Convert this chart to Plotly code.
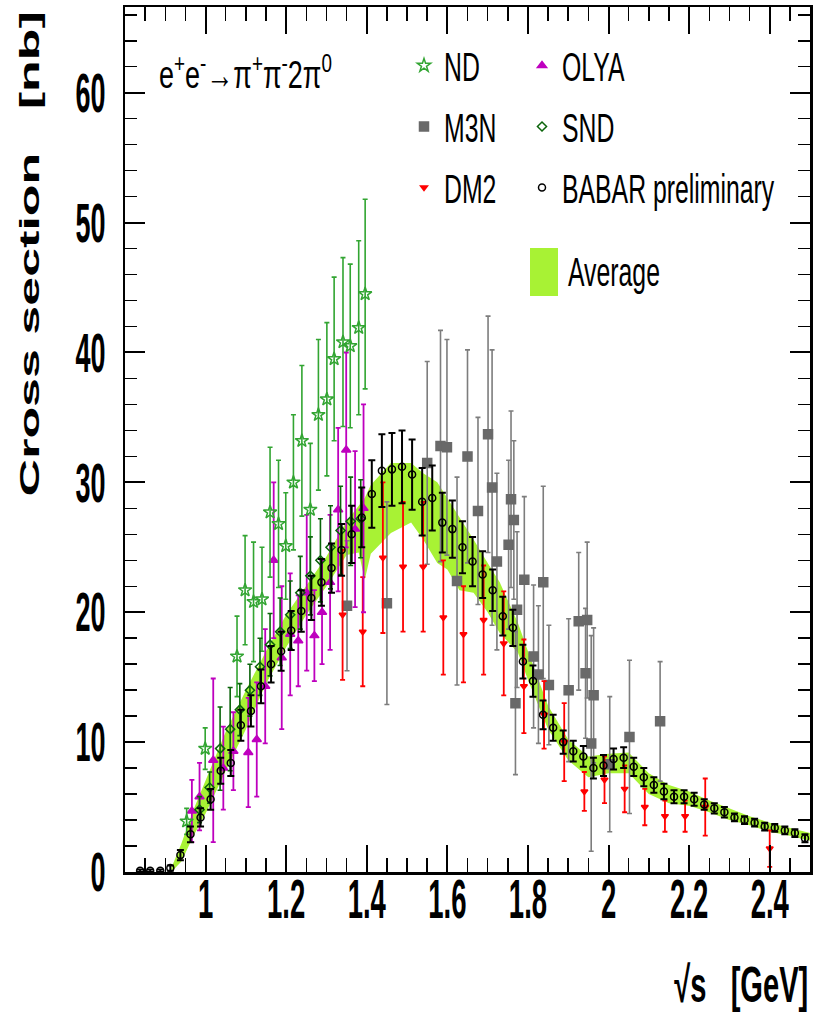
import plotly.graph_objects as go

# ---------------- data ----------------
babar_x = [0.8375, 0.8625, 0.8875, 0.9125, 0.9375, 0.9625, 0.9875, 1.0125, 1.0375, 1.0625,
           1.0875, 1.1125, 1.1375, 1.1625, 1.1875, 1.2125, 1.2375, 1.2625, 1.2875, 1.3125,
           1.3375, 1.3625, 1.3875, 1.4125, 1.4375, 1.4625, 1.4875, 1.5125, 1.5375, 1.5625,
           1.5875, 1.6125, 1.6375, 1.6625, 1.6875, 1.7125, 1.7375, 1.7625, 1.7875, 1.8125,
           1.8375, 1.8625, 1.8875, 1.9125, 1.9375, 1.9625, 1.9875, 2.0125, 2.0375, 2.0625,
           2.0875, 2.1125, 2.1375, 2.1625, 2.1875, 2.2125, 2.2375, 2.2625, 2.2875, 2.3125,
           2.3375, 2.3625, 2.3875, 2.4125, 2.4375, 2.4625, 2.4875]
babar_y = [0.1, 0.1, 0.1, 0.3, 1.3, 2.9, 4.2, 5.6, 7.8, 8.4,
           11.3, 12.4, 14.3, 16.0, 17.0, 18.6, 20.1, 21.1, 22.3, 23.4,
           24.8, 26.0, 27.3, 29.1, 30.9, 31.0, 31.2, 30.6, 28.5, 28.8,
           26.9, 26.4, 25.0, 23.9, 22.9, 21.7, 19.7, 18.8, 16.2, 14.7,
           12.1, 11.1, 10.0, 9.3, 8.9, 8.0, 8.2, 8.7, 8.8, 8.1,
           7.3, 6.7, 6.2, 5.8, 5.8, 5.6, 5.2, 4.9, 4.6, 4.2,
           4.0, 3.8, 3.5, 3.4, 3.2, 3.0, 2.6]
babar_err = [0.1, 0.1, 0.1, 0.2, 0.4, 0.6, 0.7, 0.8, 1.0, 1.0,
             1.2, 1.2, 1.3, 1.4, 1.5, 1.5, 1.6, 1.7, 1.8, 1.9,
             2.0, 2.2, 2.3, 2.6, 2.8, 2.8, 2.8, 2.7, 2.6, 2.5,
             2.3, 2.2, 2.0, 1.9, 1.8, 1.6, 1.5, 1.4, 1.3, 1.2,
             1.1, 1.0, 0.9, 0.8, 0.8, 0.8, 0.8, 0.8, 0.8, 0.7,
             0.7, 0.6, 0.6, 0.5, 0.5, 0.5, 0.4, 0.4, 0.4, 0.3,
             0.3, 0.3, 0.3, 0.3, 0.3, 0.3, 0.3]

nd_x = [0.953, 0.999, 1.078, 1.098, 1.119, 1.140, 1.160, 1.181, 1.199, 1.218,
        1.239, 1.260, 1.280, 1.301, 1.319, 1.341, 1.359, 1.380, 1.396]
nd_y = [3.9, 9.5, 16.6, 21.7, 20.8, 21.0, 27.7, 26.8, 25.1, 30.0,
        33.2, 27.9, 35.2, 36.4, 39.5, 40.8, 40.5, 41.9, 44.5]
nd_err = [1.0, 1.6, 3.1, 4.2, 4.6, 4.0, 5.0, 4.9, 4.1, 5.2,
          5.8, 5.1, 5.8, 5.9, 6.3, 6.5, 6.3, 6.7, 7.3]

m3n_x = [1.351, 1.450, 1.550, 1.583, 1.599, 1.624, 1.650, 1.676, 1.701, 1.711,
         1.723, 1.752, 1.758, 1.765, 1.769, 1.773, 1.791, 1.814, 1.826, 1.838,
         1.852, 1.901, 1.926, 1.943, 1.947, 1.957, 1.963, 2.003, 2.052, 2.128]
m3n_y = [20.5, 20.7, 31.5, 32.8, 32.7, 22.4, 32.0, 27.8, 33.7, 29.6,
         23.9, 25.2, 28.7, 27.1, 13.0, 20.2, 22.5, 16.6, 15.2, 22.3,
         14.4, 14.0, 19.3, 15.3, 19.4, 9.9, 13.6, 8.3, 10.4, 11.6]
m3n_err = [5.0, 7.8, 7.8, 8.9, 8.3, 8.0, 8.2, 7.2, 9.1, 10.6,
           6.8, 6.5, 6.8, 6.1, 5.5, 6.0, 6.4, 5.5, 5.3, 7.4,
           4.6, 5.5, 5.3, 5.0, 6.0, 8.3, 5.2, 5.2, 5.9, 4.6]

dm2_x = [1.340, 1.390, 1.440, 1.490, 1.540, 1.590, 1.640, 1.690, 1.740, 1.790,
         1.840, 1.890, 1.940, 1.990, 2.040, 2.090, 2.140, 2.190, 2.240, 2.400]
dm2_y = [19.8, 18.5, 24.2, 23.5, 23.5, 19.6, 18.3, 19.4, 17.6, 14.3,
         12.1, 10.0, 6.2, 7.1, 6.4, 5.0, 4.3, 4.3, 5.0, 1.8]
dm2_err = [5.0, 4.2, 5.8, 5.0, 5.0, 4.4, 3.7, 4.2, 4.0, 3.6,
           2.6, 3.0, 1.5, 1.8, 1.8, 1.4, 1.2, 1.2, 2.2, 1.4]

olya_x = [0.966, 0.985, 1.019, 1.044, 1.069, 1.106, 1.127, 1.148, 1.169, 1.189,
          1.210, 1.230, 1.251, 1.270, 1.289, 1.309, 1.329, 1.349, 1.371, 1.392]
olya_y = [4.7, 5.8, 8.6, 8.0, 9.3, 9.2, 10.2, 14.3, 24.0, 16.5,
          18.3, 17.8, 21.5, 18.2, 20.0, 22.3, 27.9, 32.5, 26.4, 28.0]
olya_err = [2.4, 2.6, 6.3, 3.2, 3.0, 4.2, 4.4, 4.4, 6.0, 5.5,
            4.7, 3.5, 6.0, 3.5, 4.0, 5.2, 6.3, 7.5, 6.0, 8.0]

snd_x = [0.985, 1.010, 1.036, 1.061, 1.085, 1.110, 1.135, 1.160, 1.185, 1.210,
         1.235, 1.260, 1.285, 1.310, 1.335, 1.360, 1.385]
snd_y = [4.8, 6.5, 9.5, 11.0, 12.5, 14.0, 15.8, 17.5, 18.5, 19.8,
         21.5, 22.8, 24.0, 25.0, 26.3, 27.0, 27.2]
snd_err = [1.0, 1.2, 3.2, 3.2, 2.0, 2.0, 2.2, 2.4, 2.6, 2.6,
           2.8, 3.0, 3.2, 3.2, 3.4, 3.4, 3.0]

avg_x = [0.915, 0.94, 0.97, 1.0, 1.05, 1.1, 1.15, 1.2, 1.25, 1.3,
         1.35, 1.38, 1.395, 1.41, 1.46, 1.51, 1.54, 1.575, 1.6, 1.63,
         1.665, 1.7, 1.73, 1.775, 1.8, 1.85, 1.9, 1.95, 2.0, 2.05,
         2.1, 2.15, 2.2, 2.25, 2.3, 2.35, 2.4, 2.45, 2.5]
avg_lo = [0.0, 0.8, 2.8, 4.5, 7.8, 11.0, 14.5, 17.3, 19.8, 22.0,
          24.4, 24.6, 22.5, 24.5, 26.1, 26.9, 25.6, 23.8, 23.3, 21.7,
          21.5, 20.0, 18.4, 16.9, 14.8, 11.0, 8.6, 7.3, 7.6, 7.6,
          6.0, 5.3, 5.1, 4.6, 4.0, 3.6, 3.1, 2.8, 2.4]
avg_hi = [0.3, 2.2, 4.8, 7.0, 10.8, 14.0, 17.0, 19.8, 22.0, 24.3,
          27.0, 28.2, 28.8, 29.8, 31.5, 31.5, 30.7, 30.0, 28.8, 27.3,
          25.6, 23.8, 22.3, 19.2, 17.0, 12.8, 10.2, 8.9, 9.1, 9.2,
          7.6, 6.7, 6.2, 5.5, 4.9, 4.3, 3.8, 3.4, 3.0]

x_tickvals = [1.0, 1.2, 1.4, 1.6, 1.8, 2.0, 2.2, 2.4]
x_ticktext = ["1", "1.2", "1.4", "1.6", "1.8", "2", "2.2", "2.4"]
y_tickvals = [0, 10, 20, 30, 40, 50, 60]

# ---------------- styles ----------------
FONT = "Liberation Sans, Arial, Helvetica, sans-serif"
BAND = "rgb(168,242,52)"
GREEN = "rgb(50,165,50)"
GRAY = "rgb(105,105,105)"
RED = "rgb(255,0,0)"
MAG = "rgb(190,0,190)"
DKGREEN = "rgb(10,100,10)"

W, H = 814, 1017
ML, MR, MT, MB = 125, 4, 7, 145
PW, PH = W - ML - MR, H - MT - MB


def px_x(p):
    return (p - ML) / PW


def px_y(p):
    return 1 - (p - MT) / PH


fig = go.Figure()

# average band
fig.add_trace(go.Scatter(x=avg_x, y=avg_lo, mode="lines", line=dict(width=0, color=BAND),
                         showlegend=False, hoverinfo="skip"))
fig.add_trace(go.Scatter(x=avg_x, y=avg_hi, mode="lines", line=dict(width=0, color=BAND),
                         fill="tonexty", fillcolor=BAND, showlegend=False, hoverinfo="skip"))


def series(name, x, y, err, color, symbol, size, ecolor, thick, capw, legend, rank, lw=1.5):
    return go.Scatter(
        x=x, y=y, mode="markers", name=name, legend=legend, legendgroup=name, legendrank=rank,
        marker=dict(symbol=symbol, size=size, color=color, line=dict(color=color, width=lw)),
        error_y=dict(type="data", array=err, color=ecolor, thickness=thick, width=capw),
    )


fig.add_trace(series("M3N", m3n_x, m3n_y, m3n_err, GRAY, "square", 9, "rgb(125,125,125)", 1.6, 2.5, "legend", 2))
fig.add_trace(series("DM2", dm2_x, dm2_y, dm2_err, RED, "triangle-down", 6, RED, 1.8, 2.5, "legend", 3))
fig.add_trace(series("OLYA", olya_x, olya_y, olya_err, MAG, "triangle-up", 8, MAG, 1.8, 2.5, "legend2", 1))
fig.add_trace(series("ND", nd_x, nd_y, nd_err, GREEN, "star-open", 10, GREEN, 1.6, 2.5, "legend", 1))
fig.add_trace(series("SND", snd_x, snd_y, snd_err, DKGREEN, "diamond-open", 7, DKGREEN, 1.6, 2.5, "legend2", 2))
fig.add_trace(series("BABAR preliminary", babar_x, babar_y, babar_err, "black", "circle-open", 7,
                     "black", 2.0, 3.5, "legend2", 3))

legend_common = dict(
    font=dict(family=FONT, size=40, color="black"),
    bgcolor="rgba(0,0,0,0)", borderwidth=0, xanchor="left", yanchor="top",
    orientation="v", tracegroupgap=6, itemsizing="trace", traceorder="grouped",
)

fig.update_layout(
    width=W, height=H,
    margin=dict(l=ML, r=MR, t=MT, b=MB, pad=0, autoexpand=False),
    paper_bgcolor="white", plot_bgcolor="white",
    showlegend=True,
    legend=dict(x=px_x(404), y=px_y(33), **legend_common),
    legend2=dict(x=px_x(522), y=px_y(33), **legend_common),
    xaxis=dict(
        range=[0.8, 2.5], tickvals=x_tickvals, ticktext=x_ticktext, tickangle=0,
        ticks="inside", ticklen=27, tickwidth=2, tickcolor="black",
        minor=dict(ticks="inside", ticklen=14, tickwidth=1.5, tickcolor="black",
                   tick0=0.8, dtick=0.05, showgrid=False),
        showline=True, linewidth=2.5, linecolor="black", mirror="allticks",
        showgrid=False, zeroline=False, ticklabelstandoff=-24, automargin=False,
        tickfont=dict(family=FONT, size=56, color="black", weight="bold"),
    ),
    yaxis=dict(
        range=[0, 66.6], tickvals=y_tickvals, tickangle=0,
        ticks="inside", ticklen=20, tickwidth=2, tickcolor="black",
        minor=dict(ticks="inside", ticklen=12, tickwidth=1.5, tickcolor="black",
                   tick0=0, dtick=2, showgrid=False),
        showline=True, linewidth=2.5, linecolor="black", mirror="allticks",
        showgrid=False, zeroline=False, ticklabelstandoff=6, automargin=False,
        tickfont=dict(family=FONT, size=55, color="black", weight="bold"),
    ),
    annotations=[
        dict(text="e<sup>+</sup>e<sup>-</sup>\u2192\u03c0<sup>+</sup>\u03c0<sup>-</sup>2\u03c0<sup>0</sup>",
             xref="paper", yref="paper", x=px_x(157), y=px_y(72), xanchor="left", yanchor="middle",
             align="left", showarrow=False, font=dict(family=FONT, size=38, color="black")),
        dict(text="Average", xref="paper", yref="paper", x=px_x(566), y=px_y(272),
             xanchor="left", yanchor="middle", align="left", showarrow=False,
             font=dict(family=FONT, size=40, color="black")),
        dict(text="\u221as   [GeV]", xref="paper", yref="paper", x=px_x(810), y=px_y(985),
             xanchor="right", yanchor="middle", align="right", showarrow=False,
             font=dict(family=FONT, size=50, color="black", weight="bold")),
        dict(text="Cross section   [nb]", xref="paper", yref="paper", x=px_x(29), y=px_y(10),
             xanchor="center", yanchor="top", textangle=-90, showarrow=False,
             font=dict(family=FONT, size=52, color="black", weight="bold")),
    ],
    shapes=[
        dict(type="rect", xref="paper", yref="paper", x0=px_x(530), x1=px_x(558),
             y0=px_y(296), y1=px_y(248), fillcolor=BAND, line=dict(width=0), layer="above"),
    ],
)

post = """
var gd = document.getElementById('{plot_id}');
function sq(el, f, target){
  if(!el) return;
  var key = el.textContent;
  if(el.getAttribute('data-sq') === key && el.hasAttribute('textLength')) return;
  el.removeAttribute('textLength');
  var w = el.getComputedTextLength();
  if(!(w > 0)) return;
  var t = target ? target : w * f;
  el.setAttribute('textLength', t.toFixed(2));
  el.setAttribute('lengthAdjust', 'spacingAndGlyphs');
  el.setAttribute('data-sq', key);
}
function run(){
  gd.querySelectorAll('.xtick text, .ytick text').forEach(function(e){ sq(e, 0.49); });
  gd.querySelectorAll('text.legendtext, text.legend2text').forEach(function(e){ sq(e, 0.62); });
  var ann = gd.querySelectorAll('text.annotation-text');
  if(ann.length >= 4){
    sq(ann[0], 0, 173);
    sq(ann[1], 0.62);
    sq(ann[2], 0, 134);
    var yt = ann[3];
    if(!yt.getAttribute('data-yt')){
      var bb = yt.getBBox();
      if(bb.height > 0){
        var cy = bb.y + bb.height / 2;
        var old = yt.getAttribute('transform') || '';
        yt.setAttribute('transform', old + ' translate(0,' + cy + ') scale(1,0.54) translate(0,' + (-cy) + ')');
        yt.setAttribute('data-yt', '1');
      }
    }
  }
}
run();
try {
  var mo = new MutationObserver(function(){ run(); });
  mo.observe(gd, {childList: true, subtree: true, characterData: true});
} catch(e) {}
if(gd.on){ gd.on('plotly_afterplot', run); }
var n = 0;
var iv = setInterval(function(){ run(); n++; if(n > 100) clearInterval(iv); }, 20);
"""

fig.write_html("out.html", include_plotlyjs=True, full_html=True,
               config={"displayModeBar": False, "staticPlot": True}, post_script=post)
